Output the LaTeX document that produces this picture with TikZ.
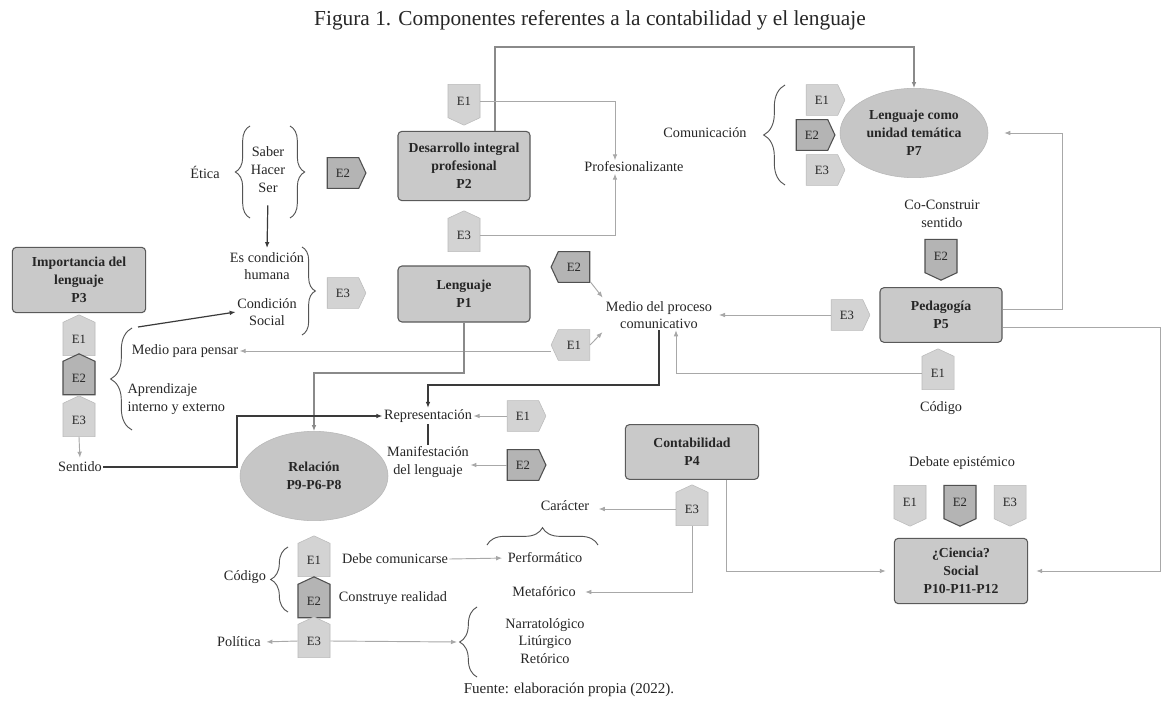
\documentclass[tikz,border=0pt]{standalone}
\usepackage{fontspec}
\setmainfont{Liberation Serif}
\usetikzlibrary{shapes.symbols,shapes.geometric,decorations.pathreplacing,calc,arrows.meta}
\definecolor{boxfill}{HTML}{C9C9C9}
\definecolor{boxborder}{HTML}{5A5A5A}
\definecolor{ellfill}{HTML}{C6C6C6}
\definecolor{taglight}{HTML}{D3D3D3}
\definecolor{tagdark}{HTML}{B4B4B4}
\definecolor{tagborder}{HTML}{505050}
\definecolor{litegray}{HTML}{A8A8A8}
\definecolor{midgray}{HTML}{8A8A8A}
\definecolor{darkline}{HTML}{3A3A3A}
\definecolor{bracegray}{HTML}{555555}
\definecolor{txtcol}{HTML}{262626}
\begin{document}
\begin{tikzpicture}[x=0.75pt,y=-0.75pt,
  box/.style={draw=boxborder, fill=boxfill, rounded corners=3pt, line width=0.8pt, align=center, font=\fontsize{10.3}{13.5}\selectfont\bfseries, inner sep=2pt, text=txtcol},
  ell/.style={ellipse, fill=ellfill, draw=ellfill!92!black, align=center, font=\fontsize{10.3}{13.5}\selectfont\bfseries, inner sep=0pt, minimum width=111pt, minimum height=67pt, text=txtcol},
  txt/.style={align=center, font=\fontsize{10.7}{13}\selectfont, inner sep=1pt, text=txtcol},
  tagbase/.style={signal, signal pointer angle=130, font=\fontsize{9.5}{10}\selectfont, inner sep=1pt, text=txtcol},
  tagl/.style={tagbase, fill=taglight, draw=taglight!88!black, line width=0.4pt},
  tagd/.style={tagbase, fill=tagdark, draw=tagborder, line width=0.8pt},
  tagh/.style={minimum width=29pt, minimum height=23pt},
  tagv/.style={minimum width=24pt, minimum height=28pt},
  lite/.style={draw=litegray, line width=0.7pt},
  midl/.style={draw=midgray, line width=0.8pt},
  dk/.style={draw=darkline, line width=0.9pt},
  arr/.style={-{Latex[length=4.5pt,width=3.5pt]}},
  brc/.style={decorate, decoration={brace, amplitude=#1}, draw=bracegray, line width=0.7pt},
  brc/.default=10pt
]
\useasboundingbox (0,0) rectangle (1162,706);
\fill[white] (0,0) rectangle (1162,706);

% titles
\node[txt, font=\fontsize{16}{18}\selectfont] (title) at (590,20) {Figura 1. Componentes referentes a la contabilidad y el lenguaje};
\node[txt, font=\fontsize{11.3}{13}\selectfont] (footer) at (569,690) {Fuente: elaboración propia (2022).};

% boxes
\node[box, minimum width=100pt, minimum height=49pt] (P3) at (79,280) {Importancia del\\lenguaje\\P3};
\node[box, minimum width=99pt, minimum height=52pt] (P2) at (464,166) {Desarrollo integral\\profesional\\P2};
\node[box, minimum width=99pt, minimum height=42pt] (P1) at (464,294) {Lenguaje\\P1};
\node[box, minimum width=91.5pt, minimum height=41pt] (P5) at (941,315) {Pedagogía\\P5};
\node[box, minimum width=100pt, minimum height=41pt] (P4) at (692,452) {Contabilidad\\P4};
\node[box, minimum width=100pt, minimum height=49pt] (P10) at (961,571) {¿Ciencia?\\Social\\P10-P11-P12};

% ellipses
\node[ell] (P7) at (914,133) {Lenguaje como\\unidad temática\\P7};
\node[ell] (rel) at (314,476) {Relación\\P9-P6-P8};

% text nodes
\node[txt] (etica) at (205,172) {Ética};
\node[txt, font=\fontsize{10.7}{13.5}\selectfont] (shs) at (268,170) {Saber\\Hacer\\Ser};
\node[txt] (esc) at (267,266) {Es condición\\humana};
\node[txt] (cs) at (267,312) {Condición\\Social};
\node[txt] (comu) at (705,133) {Comunicación};
\node[txt] (prof) at (634,167) {Profesionalizante};
\node[txt, font=\fontsize{10.7}{14}\selectfont] (cocon) at (942,214) {Co-Construir\\sentido};
\node[txt] (medio) at (659,315) {Medio del proceso\\comunicativo};
\node[txt] (mpp) at (185,351) {Medio para pensar};
\node[txt, align=left, anchor=west] (apr) at (126,399) {Aprendizaje\\interno y externo};
\node[txt] (sentido) at (80,467) {Sentido};
\node[txt] (repr) at (428,416) {Representación};
\node[txt] (manif) at (428,462) {Manifestación\\del lenguaje};
\node[txt] (cod5) at (941,408) {Código};
\node[txt] (debate) at (962,463) {Debate epistémico};
\node[txt] (caracter) at (565,506) {Carácter};
\node[txt] (perf) at (545,558) {Performático};
\node[txt] (meta) at (544,592) {Metafórico};
\node[txt] (narr) at (545,641) {Narratológico\\Litúrgico\\Retórico};
\node[txt] (codigo) at (245,577) {Código};
\node[txt] (debe) at (395,559) {Debe comunicarse};
\node[txt] (constr) at (393,598) {Construye realidad};
\node[txt] (politica) at (239,642) {Política};

% tags
\node[tagd, tagh, signal to=east] (tE2a) at (343,173) {E2};
\node[tagl, tagh, signal to=east] (tE3a) at (343,293) {E3};
\node[tagl, tagv, signal to=south] (tE1b) at (464,101) {E1};
\node[tagl, tagv, signal to=north] (tE3b) at (464,235) {E3};
\node[tagd, tagh, signal to=west] (tE2c) at (574,267) {E2};
\node[tagl, tagh, signal to=west] (tE1c) at (574,345) {E1};
\node[tagl, tagh, signal to=east] (t7a) at (822,100) {E1};
\node[tagd, tagh, signal to=east] (t7b) at (812,135) {E2};
\node[tagl, tagh, signal to=east] (t7c) at (822,170) {E3};
\node[tagd, tagv, signal to=south] (tE2d) at (941,256) {E2};
\node[tagl, tagh, signal to=east] (tE3e) at (847,315) {E3};
\node[tagl, tagv, signal to=north] (tE1e) at (938,373) {E1};
\node[tagl, tagv, signal to=south] (d1) at (910,502) {E1};
\node[tagd, tagv, signal to=south] (d2) at (960,502) {E2};
\node[tagl, tagv, signal to=south] (d3) at (1010,502) {E3};
\node[tagl, tagh, signal to=east] (tE1r) at (523,416) {E1};
\node[tagd, tagh, signal to=east] (tE2r) at (523,465) {E2};
\node[tagl, tagv, signal to=north] (tE3p) at (692,509) {E3};
\node[tagl, tagv, signal to=north] (c1) at (79,339) {E1};
\node[tagd, tagv, signal to=north] (c2) at (79,378) {E2};
\node[tagl, tagv, signal to=north] (c3) at (79,420) {E3};
\node[tagl, tagv, signal to=north] (b1) at (314,560) {E1};
\node[tagd, tagv, signal to=north] (b2) at (314,601) {E2};
\node[tagl, tagv, signal to=north] (b3) at (314,641) {E3};

% braces
\draw[brc=11pt] (250,218) -- (250,126);
\draw[brc=11pt] (290,126) -- (290,218);
\draw[brc=10pt] (302,247) -- (302,335);
\draw[brc=16pt] (785,185) -- (785,85);
\draw[brc=16pt] (132,430) -- (132,328);
\draw[brc=13pt] (288,612) -- (288,547);
\draw[brc=13pt] (477,677) -- (477,607);
\draw[brc=13pt] (487,545) -- (598,545);

% helper coordinates
\coordinate (k1) at (495,47);
\coordinate (k2) at (615,0);
\coordinate (k3) at (0,373);
\coordinate (k4) at (659,385);
\coordinate (k6) at (237,416);
\coordinate (k7) at (676,0);
\coordinate (k8) at (0,309);
\coordinate (k9) at (1062,133);
\coordinate (kR) at (1160,327);
\coordinate (k11) at (726,0);
\coordinate (atop) at (138,327);
\coordinate (ntip) at (457,642);

% connectors
\draw[midl, arr] (P2.north -| k1) -- (k1) -| (P7.north);
\draw[lite, arr] (tE1b.east) -| (k2 |- prof.north);
\draw[lite, arr] (tE3b.east) -| (k2 |- prof.south);
\draw[lite, arr, shorten >=2pt] (tE2c.south east) -- (medio.north west);
\draw[lite, arr, shorten >=2pt] (tE1c.east) -- (medio.south west);
\draw[lite, arr] (tE1c.west |- mpp.east) -- (mpp.east);
\draw[midl, arr] (P1.south) |- (rel.north |- k3) -- (rel.north);
\draw[dk, arr] (medio.south) -- (k4) -| (repr.north);
\draw[dk, arr] (sentido.east) -| (k6) -- (repr.west);
\draw[lite, arr] (tE1r.west) -- (repr.east);
\draw[lite, arr] (tE2r.west) -- (tE2r.west -| manif.east);
\draw[dk] (repr.south) -- (manif.north);
\draw[lite, arr, shorten >=4pt] (tE3e.west) -- (medio.east);
\draw[lite, arr] (tE1e.west) -| (k7 |- medio.south);
\draw[lite, arr, shorten >=12pt] (P5.east |- k8) -| (k9) -- (P7.east);
\draw[lite, arr, shorten >=6pt] (P5.east |- kR) -- (kR) |- (P10.east);
\draw[lite, arr, shorten >=6pt] (P4.south -| k11) |- (P10.west);
\draw[lite, arr, shorten >=6pt] (tE3p.west) -- (tE3p.west -| caracter.east);
\draw[lite, arr, shorten >=6pt] (tE3p.south) |- (meta.east);
\draw[lite, arr, shorten >=3pt] (debe.east) -- (perf.west);
\draw[lite, arr, shorten >=3pt] (b3.west) -- (politica.east);
\draw[lite, arr] (b3.east) -- (ntip);
\draw[dk, arr, shorten <=8pt, shorten >=2pt] (shs.south) -- (esc.north);
\draw[lite, arr, shorten >=2pt] (c3.south) -- (sentido.north);
\draw[dk, arr] (atop) -- (cs.west);
\end{tikzpicture}
\end{document}
